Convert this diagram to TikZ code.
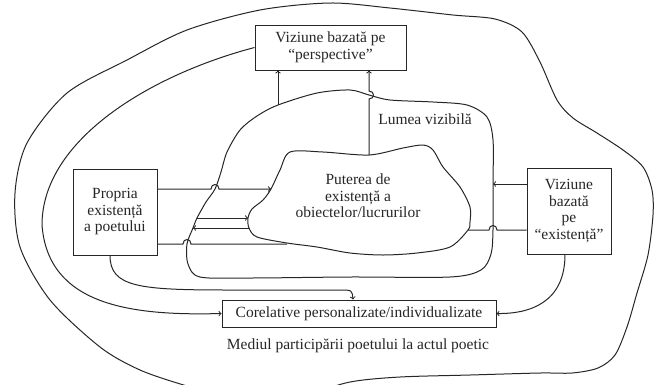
\documentclass[tikz,border=0pt]{standalone}
\usepackage{fontspec}
\setmainfont{Liberation Serif}
\usepackage{tikz}

\tikzset{
  box/.style={draw, line width=1pt, align=center, inner sep=0pt, font=\fontsize{15.5}{16.5}\selectfont},
  conn/.style={line width=1pt},
  lbl/.style={align=center, inner sep=0pt, font=\fontsize{15.5}{16.5}\selectfont}
}

\begin{document}
\begin{tikzpicture}[x=1pt,y=-1pt,black!85]
\clip (0,0) rectangle (654,384);

% mediul participarii (outer line)
\draw[conn] plot[smooth cycle] coordinates {(127,60) (187,30) (260,10) (330,3) (390,8) (453,15) (495,19) (522,32) (540,62) (557,100) (573,118) (597,133) (623,150) (643,167) (652,190) (653,215) (648,255) (637,293) (627,327) (615,355) (598,368) (572,373) (540,373) (470,375) (400,377) (350,382) (300,396) (240,400) (187,386) (140,370) (100,347) (50,300) (20,247) (15,193) (27,143) (67,93)};

% lumea vizibila
\draw[conn] plot[smooth cycle] coordinates {(278,105) (317,93) (350,90) (369,95) (390,100) (433,102) (467,105) (487,117) (493,140) (493,184) (493,230) (491,254) (481,270) (450,277) (350,277) (250,278) (200,277) (188,264) (187,244) (193,228) (197,218) (206,202) (215,189) (221,172) (227,152) (240,130) (257,116)};

% obiectele / lucrurile
\draw[conn] plot[smooth cycle] coordinates {(290,152) (323,152) (369,155) (403,148) (423,145) (433,150) (443,167) (460,187) (470,207) (470,222) (468,230) (450,247) (417,253) (383,255) (350,253) (317,247) (287,243) (257,237) (249,228) (248,218) (252,209) (263,200) (271,189) (280,170)};

\coordinate (visTop) at (278,105);
\coordinate (visW2) at (197,218);
\coordinate (visW3) at (193,228);
\coordinate (visE) at (493,184);
\coordinate (obTop) at (369,155);
\coordinate (obW1) at (271,189);
\coordinate (obW2) at (248,218);
\coordinate (obW3) at (249,228);
\coordinate (obSW) at (287,244);
\coordinate (obE) at (468,230);

\node[box, minimum width=151pt, minimum height=45pt] (persp) at (330.5,47.5) {Viziune bazată pe\\“perspective”};
\node[box, minimum width=84pt, minimum height=86pt] (prop) at (115,212) {Propria\\existență\\a poetului};
\node[box, minimum width=84pt, minimum height=86pt] (exis) at (569,211) {Viziune\\bazată\\pe\\“existență”};
\node[box, minimum width=274pt, minimum height=27pt] (corel) at (359,313.5) {Corelative personalizate/individualizate};

\node[lbl] (puterea) at (358,196) {Puterea de\\existență a\\obiectelor/lucrurilor};
\node[lbl] (lumea) at (425,119) {Lumea vizibilă};
\node[lbl] (mediul) at (358,346) {Mediul participării poetului la actul poetic};

% spre viziunea "perspective"
\draw[conn,->] (visTop) -- (persp.south -| visTop);
\draw[conn,->] (obTop) -- (369,99) .. controls (375,99) and (375,91) .. (369,91) -- (persp.south -| obTop);

% propria existenta
\draw[conn,->] (prop.east |- obW1) -- (211,189) .. controls (211,183) and (219,183) .. (219,189) -- (obW1);
\draw[conn,->] (visW2) -- (obW2);
\draw[conn,->] (obW3) -- (visW3);
\draw[conn] (prop.east |- obSW) -- (183,244) .. controls (183,238) and (191,238) .. (191,244) -- (obSW);

% viziune "existenta"
\draw[conn,->] (exis.west |- visE) -- (visE);
\draw[conn] (exis.west |- obE) -- (497,230) .. controls (497,224) and (489,224) .. (489,230) -- (obE);

% spre corelative
\draw[conn,->] ([xshift=-5pt]prop.south) .. controls +(0,32) and (140,290) .. (230,290) -- (340,290) .. controls (352,290) .. ([xshift=-6pt]corel.north);
\draw[conn,->] (persp.west) .. controls (150,75) and (42,140) .. (42,225) .. controls (48,305) and (130,316) .. (corel.west);
\draw[conn,->] ([xshift=-4pt]exis.south) .. controls +(0,48) and (530,314) .. (corel.east);
\end{tikzpicture}
\end{document}
